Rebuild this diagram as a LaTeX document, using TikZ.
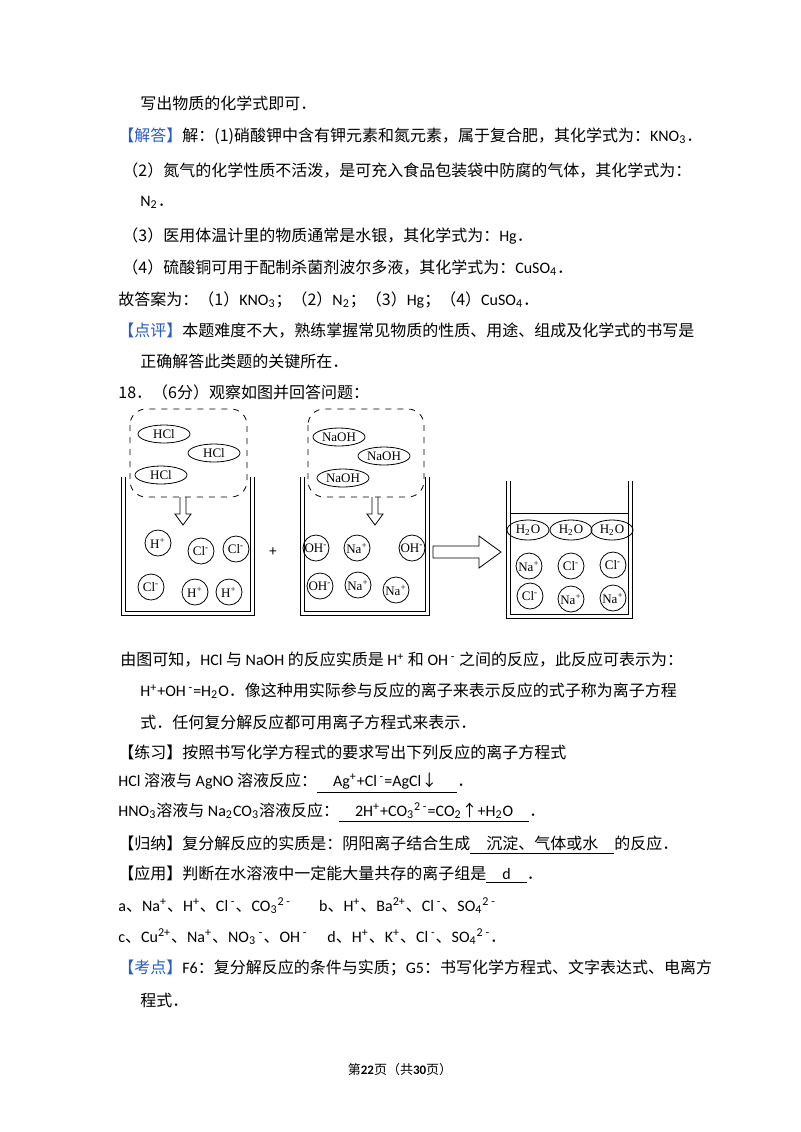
\documentclass[tikz,border=0pt]{standalone}
\usepackage{fontspec}
\usetikzlibrary{shapes.geometric}
\setmainfont{Noto Sans CJK SC}
\newfontfamily\lat{Carlito}
\newfontfamily\tms{Liberation Serif}
\newcommand{\Up}[1]{\textsuperscript{#1}}
\newcommand{\Dn}[1]{\textsubscript{#1}}
\newcommand{\Ul}[1]{\underline{#1}}
\newcommand{\Dun}{{\rmfamily 、}}
\newcommand{\Dot}{{\rmfamily ．}}
\newcommand{\Sem}{{\rmfamily ；}}
\definecolor{bl}{HTML}{2A5CC8}
\begin{document}
\begin{tikzpicture}[x=0.5pt,y=-0.5pt,
  t/.style={anchor=west,inner sep=0pt,font=\fontsize{8}{10}\selectfont},
  mol/.style={draw,ellipse,minimum width=26pt,minimum height=9pt,inner sep=0pt,font=\tms\fontsize{6.5}{7}\selectfont},
  ion/.style={draw,circle,minimum size=13pt,inner sep=0pt,font=\tms\fontsize{6.5}{7}\selectfont},
  wat/.style={draw,ellipse,minimum width=21pt,minimum height=10pt,inner sep=0pt,font=\tms\fontsize{6.5}{7}\selectfont},
  dbox/.style={draw,dashed,rounded corners=8pt,thin},
  wall/.style={draw,line width=0.4pt}]
\useasboundingbox (0,0) rectangle (800,1132);
\fill[white] (0,0) rectangle (800,1132);
% text
\node[t] (l1) at (140,103) {写出物质的化学式即可．};
\node[t] (l2) at (118,136) {\textcolor{bl}{【解答】}解：(1)硝酸钾中含有钾元素和氮元素，属于复合肥，其化学式为：\lat KNO\Dn{3}\Dot};
\node[t] (l3) at (122,170) {（2）氮气的化学性质不活泼，是可充入食品包装袋中防腐的气体，其化学式为：};
\node[t] (l4) at (140,202) {\lat N\Dn{2}\Dot};
\node[t] (l5) at (122,236) {（3）医用体温计里的物质通常是水银，其化学式为：\lat Hg\Dot};
\node[t] (l6) at (122,268) {（4）硫酸铜可用于配制杀菌剂波尔多液，其化学式为：\lat CuSO\Dn{4}\Dot};
\node[t] (l7) at (118,300) {故答案为：（1）{\lat KNO\Dn{3}}；（2）{\lat N\Dn{2}}；（3）{\lat Hg}；（4）{\lat CuSO\Dn{4}}．};
\node[t] (l8) at (118,331) {\textcolor{bl}{【点评】}本题难度不大，熟练掌握常见物质的性质、用途、组成及化学式的书写是};
\node[t] (l9) at (140,361) {正确解答此类题的关键所在．};
\node[t] (l10) at (118,392) {18．（6分）观察如图并回答问题：};
\node[t] (m1) at (120,660) {由图可知，{\lat HCl} 与 {\lat NaOH} 的反应实质是 {\lat H\Up{+}} 和 {\lat OH\Up{ -}} 之间的反应，此反应可表示为：};
\node[t] (m2) at (140,691) {{\lat H\Up{+}+OH\Up{ -}=H\Dn{2}O}．像这种用实际参与反应的离子来表示反应的式子称为离子方程};
\node[t] (m3) at (140,722) {式．任何复分解反应都可用离子方程式来表示．};
\node[t] (m4) at (118,752) {【练习】按照书写化学方程式的要求写出下列反应的离子方程式};
\node[t] (m5) at (118,783) {{\lat HCl} 溶液与 {\lat AgNO} 溶液反应：\Ul{\hspace{8pt}{\lat Ag\Up{+}+Cl\Up{ -}=AgCl}↓\hspace{10pt}}．};
\node[t] (m6) at (118,813) {{\lat HNO\Dn{3}}溶液与 {\lat Na\Dn{2}CO\Dn{3}}溶液反应：\Ul{\hspace{8pt}{\lat 2H\Up{+}+CO\Dn{3}\Up{2 -}=CO\Dn{2}}↑{\lat +H\Dn{2}O}\hspace{8pt}}．};
\node[t] (m7) at (118,845) {【归纳】复分解反应的实质是：阴阳离子结合生成\Ul{\hspace{8pt}沉淀、气体或水\hspace{8pt}}的反应．};
\node[t] (m8) at (118,875) {【应用】判断在水溶液中一定能大量共存的离子组是\Ul{\hspace{8pt}{\lat d}\hspace{8pt}}．};
\node[t] (m9) at (118,906) {\lat a\Dun Na\Up{+}\Dun H\Up{+}\Dun Cl\Up{ -}\Dun CO\Dn{3}\Up{2 -}\hspace{14pt}b\Dun H\Up{+}\Dun Ba\Up{2+}\Dun Cl\Up{ -}\Dun SO\Dn{4}\Up{2 -}};
\node[t] (m10) at (118,937) {\lat c\Dun Cu\Up{2+}\Dun Na\Up{+}\Dun NO\Dn{3}\Up{ -}\Dun OH\Up{ -}\hspace{10pt}d\Dun H\Up{+}\Dun K\Up{+}\Dun Cl\Up{ -}\Dun SO\Dn{4}\Up{2 -}\Dot};
\node[t] (m11) at (118,968) {\textcolor{bl}{【考点】}{\lat F6}：复分解反应的条件与实质；{\lat G5}：书写化学方程式、文字表达式、电离方};
\node[t] (m12) at (140,1000) {程式．};
\node[anchor=center,inner sep=0pt,font=\fontsize{6.5}{8}\selectfont] (pg) at (400,1070) {第\textbf{\lat 22}页（共\textbf{\lat 30}页）};
% beaker 1
\draw[wall] (121,477) -- (121,615) -- (254,615) -- (254,477);
\draw[wall] (125,477) -- (125,611) -- (250,611) -- (250,477);
\draw[dbox] (130,409) rectangle (247,497);
\node[mol] (a1) at (164,434) {HCl};
\node[mol] (a2) at (214,453) {HCl};
\node[mol] (a3) at (161,475) {HCl};
\coordinate (ar1) at (186,497);
\draw ([xshift=-3]ar1) -- ++(0,17) -- ++(-5,0) -- ++(8,11) -- ++(8,-11) -- ++(-5,0) -- ++(0,-17);
\node[ion] (b1) at (158,543) {H\Up{+}};
\node[ion] (b2) at (201,551) {Cl\Up{-}};
\node[ion] (b3) at (236,549) {Cl\Up{-}};
\node[ion] (b4) at (151,587) {Cl\Up{-}};
\node[ion] (b5) at (195,592) {H\Up{+}};
\node[ion] (b6) at (229,592) {H\Up{+}};
\node[font=\fontsize{7}{8}\selectfont] (plus) at (273,552) {+};
% beaker 2
\draw[wall] (300,477) -- (300,615) -- (429,615) -- (429,477);
\draw[wall] (304,477) -- (304,611) -- (425,611) -- (425,477);
\draw[dbox] (308,409) rectangle (424,497);
\node[mol] (c1) at (339,437) {NaOH};
\node[mol] (c2) at (384,456) {NaOH};
\node[mol] (c3) at (343,478) {NaOH};
\coordinate (ar2) at (378,497);
\draw ([xshift=-3]ar2) -- ++(0,17) -- ++(-5,0) -- ++(8,11) -- ++(8,-11) -- ++(-5,0) -- ++(0,-17);
\node[ion] (d1) at (316,548) {OH\Up{-}};
\node[ion] (d2) at (357,548) {Na\Up{+}};
\node[ion] (d3) at (412,548) {OH\Up{-}};
\node[ion] (d4) at (320,586) {OH\Up{-}};
\node[ion] (d5) at (358,585) {Na\Up{+}};
\node[ion] (d6) at (396,590) {Na\Up{+}};
% big arrow
\coordinate (ba) at (433,552);
\draw (ba) ++(0,-6) -- ++(46,0) -- ++(0,-10) -- ++(22,16) -- ++(-22,16) -- ++(0,-10) -- ++(-46,0) -- cycle;
% beaker 3
\draw[wall] (506,481) -- (506,618) -- (632,618) -- (632,481);
\draw[wall] (510,481) -- (510,614) -- (628,614) -- (628,481);
\draw (510,513) -- (628,513);
\node[wat] (e1) at (528,530) {H\Dn{2}O};
\node[wat] (e2) at (571,530) {H\Dn{2}O};
\node[wat] (e3) at (612,530) {H\Dn{2}O};
\node[ion] (f1) at (529,566) {Na\Up{+}};
\node[ion] (f2) at (571,566) {Cl\Up{-}};
\node[ion] (f3) at (613,565) {Cl\Up{-}};
\node[ion] (f4) at (530,596) {Cl\Up{-}};
\node[ion] (f5) at (571,599) {Na\Up{+}};
\node[ion] (f6) at (613,598) {Na\Up{+}};
\end{tikzpicture}
\end{document}
